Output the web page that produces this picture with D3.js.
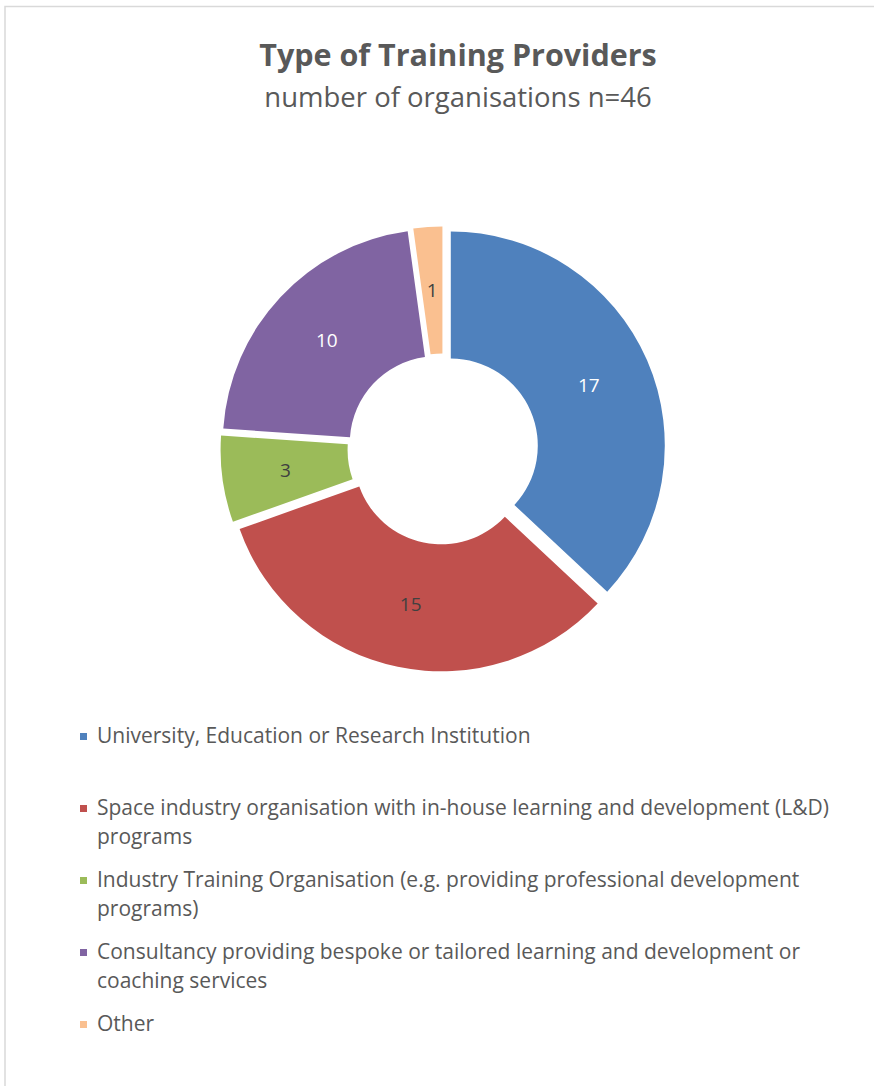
<!DOCTYPE html>
<html>
<head>
<meta charset="utf-8">
<script src="https://cdn.jsdelivr.net/npm/d3@7"></script>
<style>
  body { margin: 0; background: #fff; }
</style>
</head>
<body>
<div id="chart"></div>
<script>
// data
var categories = [
    "University, Education or Research Institution",
    "Space industry organisation with in-house learning and development (L&D) programs",
    "Industry Training Organisation (e.g. providing professional development programs)",
    "Consultancy providing bespoke or tailored learning and development or coaching services",
    "Other"
];
var values = [17, 15, 3, 10, 1];
var colors = ["#4F81BD", "#C0504D", "#9BBB59", "#8064A2", "#FAC090"];
var labelColors = ["#ffffff", "#404040", "#404040", "#ffffff", "#404040"];
var title = "Type of Training Providers";
var subtitle = "number of organisations n=46";

var width = 874,
    height = 1086;

var cx = 443, cy = 449,
    outerR = 214, innerR = 87,
    explode = 8.5;

var svg = d3.select("#chart")
    .append("svg")
    .attr("width", width)
    .attr("height", height)
    .style("font-family", "'Open Sans', sans-serif");

// chart frame
svg.append("rect")
    .attr("x", 5)
    .attr("y", 6.5)
    .attr("width", 900)
    .attr("height", 1100)
    .attr("fill", "none")
    .attr("stroke", "#D9D9D9")
    .attr("stroke-width", 1.5);

svg.append("text")
    .attr("x", 458)
    .attr("y", 66)
    .attr("text-anchor", "middle")
    .style("font-size", "30.5px")
    .style("font-weight", "bold")
    .attr("fill", "#595959")
    .text(title);

svg.append("text")
    .attr("x", 458)
    .attr("y", 107)
    .attr("text-anchor", "middle")
    .style("font-size", "27.5px")
    .attr("fill", "#595959")
    .text(subtitle);

var pie = d3.pie()
    .sort(null)
    .value(function(d) { return d; });

var arc = d3.arc()
    .innerRadius(innerR)
    .outerRadius(outerR);

var arcs = pie(values);

// each slice pushed out along its middle angle
function offset(d) {
    var a = (d.startAngle + d.endAngle) / 2;
    return [Math.sin(a) * explode, -Math.cos(a) * explode];
}

var g = svg.append("g")
    .attr("transform", "translate(" + cx + "," + cy + ")");

var slice = g.selectAll("g.slice")
    .data(arcs)
    .enter()
    .append("g")
    .attr("class", "slice")
    .attr("transform", function(d) {
        var o = offset(d);
        return "translate(" + o[0] + "," + o[1] + ")";
    });

slice.append("path")
    .attr("d", arc)
    .attr("fill", function(d, i) { return colors[i]; });

slice.append("text")
    .attr("transform", function(d) { return "translate(" + arc.centroid(d) + ")"; })
    .attr("text-anchor", "middle")
    .attr("dy", "0.35em")
    .style("font-size", "19px")
    .attr("fill", function(d, i) { return labelColors[i]; })
    .text(function(d) { return d.data; });

// legend
var legendY = d3.scaleLinear()
    .domain([0, categories.length - 1])
    .range([743, 1031]);

var maxWidth = 745,
    lineH = 28.5;

var legend = svg.append("g")
    .selectAll("g")
    .data(categories)
    .enter()
    .append("g")
    .attr("class", "legend")
    .attr("transform", function(d, i) {
        return "translate(0," + legendY(i) + ")";
    });

legend.append("rect")
    .attr("x", 80)
    .attr("y", -10)
    .attr("width", 7)
    .attr("height", 7)
    .attr("fill", function(d, i) { return colors[i]; });

legend.append("text")
    .attr("x", 97)
    .attr("y", 0)
    .style("font-size", "21px")
    .attr("fill", "#595959")
    .each(function(d) {
        var text = d3.select(this),
            words = d.split(" "),
            line = [],
            tspan = text.append("tspan").attr("x", 97).attr("dy", 0);
        words.forEach(function(w) {
            line.push(w);
            tspan.text(line.join(" "));
            if (tspan.node().getComputedTextLength() > maxWidth && line.length > 1) {
                line.pop();
                tspan.text(line.join(" "));
                line = [w];
                tspan = text.append("tspan").attr("x", 97).attr("dy", lineH).text(w);
            }
        });
    });
</script>
</body>
</html>
